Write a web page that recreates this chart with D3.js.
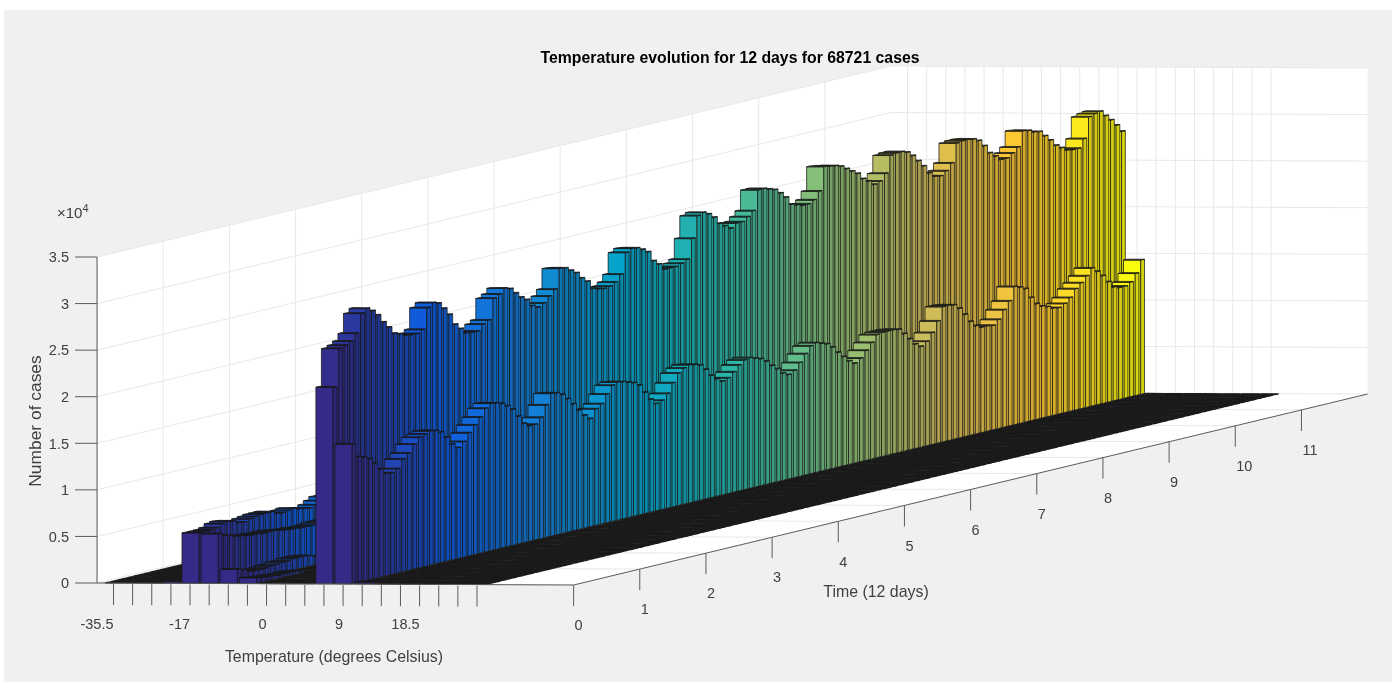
<!DOCTYPE html>
<html>
<head>
<meta charset="utf-8">
<script src="https://cdnjs.cloudflare.com/ajax/libs/d3/7.8.5/d3.min.js"></script>
<style>
  html, body { margin: 0; padding: 0; background: #fff; }
  svg { display: block; filter: blur(0.35px); }
  text { font-family: "Liberation Sans", Arial, sans-serif; fill: #404040; }
</style>
</head>
<body>
<div id="chart"></div>
<script>
// cases (x 10^4) per 2 hour bin. Columns that are left out stay at 0.
// Short columns: the rest of them sits behind the tall ridge and can't be read.
var col3 = [0.02, 0.01];
var col4 = [0.54, 0.54, 0.54, 0.55, 0.58, 0.59, 0.58, 0.55, 0.54, 0.56, 0.57, 0.58, 0.58, 0.58, 0.55, 0.54, 0.55, 0.56, 0.54, 0.53, 0.52, 0.54, 0.57, 0.60, 0.60];
var col5 = [0.53, 0.50, 0.48, 0.46, 0.45, 0.44, 0.43, 0.43, 0.42, 0.42, 0.42, 0.41, 0.40, 0.39, 0.39, 0.38, 0.38, 0.38, 0.39, 0.39, 0.39, 0.40, 0.40];
var col6 = [0.15, 0.13, 0.10, 0.09, 0.09, 0.09, 0.10, 0.10, 0.11, 0.11, 0.12, 0.12, 0.12, 0.11, 0.09, 0.07, 0.06, 0.05, 0.05, 0.05, 0.06];
var col7 = [0.06, 0.05, 0.04, 0.04, 0.03, 0.03, 0.03, 0.03, 0.02];
var col11 = [
  2.11, 2.51, 2.53, 2.56, 2.63, 2.83, 2.87, 2.83, 2.77, 2.68, 2.61, 2.53,
  2.51, 2.48, 2.47, 2.47, 2.50, 2.72, 2.76, 2.74, 2.67, 2.59, 2.47, 2.41,
  2.35, 2.34, 2.34, 2.40, 2.43, 2.65, 2.68, 2.73, 2.71, 2.65, 2.59, 2.55,
  2.47, 2.44, 2.47, 2.53, 2.59, 2.80, 2.79, 2.75, 2.71, 2.64, 2.59, 2.50,
  2.48, 2.47, 2.48, 2.51, 2.58, 2.80, 2.83, 2.82, 2.79, 2.75, 2.64, 2.59,
  2.52, 2.52, 2.52, 2.54, 2.57, 2.78, 3.01, 3.03, 3.00, 2.95, 2.87, 2.83,
  2.79, 2.83, 2.83, 2.87, 2.92, 3.13, 3.13, 3.11, 3.09, 3.04, 2.98, 2.89,
  2.87, 2.85, 2.85, 2.88, 2.96, 3.21, 3.20, 3.19, 3.17, 3.13, 3.09, 3.05,
  2.98, 2.94, 2.89, 2.91, 2.98, 3.16, 3.17, 3.17, 3.15, 3.10, 3.03, 2.96,
  2.87, 2.82, 2.81, 2.85, 2.92, 3.12, 3.13, 3.13, 3.12, 3.09, 3.02, 2.93,
  2.88, 2.83, 2.83, 2.87, 2.92, 3.08, 3.07, 3.04, 3.03, 2.97, 2.91, 2.84,
  2.80, 2.76, 2.75, 2.75, 2.84, 3.06, 3.08, 3.09, 3.03, 2.97, 2.90, 2.82
];
var col12 = [
  1.50, 1.35, 1.33, 1.30, 1.24, 1.16, 1.10, 1.09, 1.12, 1.21, 1.26, 1.34,
  1.40, 1.42, 1.44, 1.43, 1.40, 1.33, 1.24, 1.19, 1.24, 1.32, 1.39, 1.46,
  1.54, 1.58, 1.57, 1.55, 1.51, 1.46, 1.37, 1.28, 1.24, 1.24, 1.30, 1.42,
  1.53, 1.52, 1.49, 1.43, 1.36, 1.28, 1.21, 1.16, 1.25, 1.29, 1.38, 1.46,
  1.48, 1.47, 1.45, 1.43, 1.39, 1.30, 1.21, 1.15, 1.17, 1.23, 1.33, 1.42,
  1.46, 1.48, 1.47, 1.45, 1.39, 1.31, 1.26, 1.22, 1.24, 1.29, 1.35, 1.39,
  1.40, 1.38, 1.36, 1.32, 1.26, 1.21, 1.15, 1.12, 1.15, 1.22, 1.30, 1.37,
  1.39, 1.37, 1.35, 1.30, 1.23, 1.17, 1.11, 1.07, 1.11, 1.18, 1.25, 1.32,
  1.33, 1.33, 1.33, 1.32, 1.26, 1.19, 1.12, 1.08, 1.12, 1.20, 1.31, 1.45,
  1.45, 1.44, 1.39, 1.31, 1.22, 1.16, 1.13, 1.13, 1.12, 1.17, 1.26, 1.34,
  1.48, 1.46, 1.43, 1.32, 1.24, 1.20, 1.18, 1.15, 1.14, 1.17, 1.22, 1.30,
  1.35, 1.41, 1.48, 1.43, 1.37, 1.29, 1.22, 1.20, 1.20, 1.23, 1.31, 1.44
];
var col13 = [0.02, 0.01];

var tempLabels = ["-35.5", "-17", "0", "9", "18.5"];
var tempLabelCols = [0, 4, 8, 12, 16];
var timeLabels = ["0", "1", "2", "3", "4", "5", "6", "7", "8", "9", "10", "11"];
var zTicks = [0, 0.5, 1, 1.5, 2, 2.5, 3, 3.5];
var parula = ["#352a87", "#0f5cdd", "#1481d6", "#06a4ca", "#2eb7a4", "#87bf77", "#d1bb59", "#fec832", "#f9fb0e"];

var columns = {3: col3, 4: col4, 5: col5, 6: col6, 7: col7, 11: col11, 12: col12, 13: col13};
var nCols = 20, nRows = 144;

var width = 1397, height = 684;
var svg = d3.select("#chart").append("svg").attr("width", width).attr("height", height);

// figure background
svg.append("rect").attr("x", 4).attr("y", 10).attr("width", 1388).attr("height", 672).attr("fill", "#f0f0f0");

// the view is a plain oblique one: temperature goes right, time goes up and right, cases go up
var colX = d3.scaleLinear().domain([0, 19]).range([113.5, 477]);
var colDrop = d3.scaleLinear().domain([-0.86, 24.05]).range([583, 585]);
var timeX = d3.scaleLinear().domain([0, 12]).range([0, 794]);
var timeLift = d3.scaleLinear().domain([0, 12]).range([0, 191]);
var zLift = d3.scaleLinear().domain([0, 3.5]).range([0, 326]);
var colMin = -0.86, colMax = 24.05;

function project(c, t, z) {
  return [colX(c) + timeX(t), colDrop(c) - timeLift(t) - zLift(z)];
}
function poly(points) {
  return "M" + points.map(function (p) { return p[0].toFixed(2) + "," + p[1].toFixed(2); }).join("L") + "Z";
}

var rowColor = d3.scaleLinear()
  .domain(parula.map(function (d, i) { return i * (nRows - 1) / (parula.length - 1); }))
  .range(parula)
  .interpolate(d3.interpolateRgb);

function shade(color, k) {
  var c = d3.rgb(color);
  return d3.rgb(c.r * k, c.g * k, c.b * k).formatHex();
}

// walls and floor
var walls = svg.append("g");
var wallShapes = [
  [project(colMin, 0, 0), project(colMin, 12, 0), project(colMin, 12, 3.5), project(colMin, 0, 3.5)],
  [project(colMin, 12, 0), project(colMax, 12, 0), project(colMax, 12, 3.5), project(colMin, 12, 3.5)],
  [project(colMin, 0, 0), project(colMax, 0, 0), project(colMax, 12, 0), project(colMin, 12, 0)]
];
walls.selectAll("path").data(wallShapes).enter().append("path")
  .attr("d", poly).attr("fill", "#fff");

// grid
var gridLines = [];
d3.range(0, 20).forEach(function (c) {
  gridLines.push([project(c, 0, 0), project(c, 12, 0), project(c, 12, 3.5)]);
});
d3.range(0, 12).forEach(function (t) {
  gridLines.push([project(colMax, t, 0), project(colMin, t, 0), project(colMin, t, 3.5)]);
});
zTicks.forEach(function (z) {
  gridLines.push([project(colMin, 0, z), project(colMin, 12, z), project(colMax, 12, z)]);
});
svg.append("g").selectAll("path").data(gridLines).enter().append("path")
  .attr("d", d3.line())
  .attr("fill", "none")
  .attr("stroke", "#e8e8e8")
  .attr("stroke-width", 1);

// bars, far ones first so the near ones cover them
var barHalf = 0.45, rowFrom = 0.1, rowTo = 0.78;
var bars = [];
d3.range(nCols).forEach(function (c) {
  for (var r = nRows - 1; r >= 0; r--) {
    var values = columns[c] || [];
    bars.push({ col: c, row: r, value: values[r] || 0 });
  }
});

var barG = svg.append("g").attr("stroke", "#1a1a1a").attr("stroke-width", 0.75).attr("stroke-linejoin", "round");
var barCells = barG.selectAll("g").data(bars).enter().append("g");

function corners(d) {
  var l = d.col - barHalf, w = d.col + barHalf;
  var t0 = (d.row + rowFrom) / 12, t1 = (d.row + rowTo) / 12;
  return { l: l, w: w, t0: t0, t1: t1, z: d.value };
}

barCells.filter(function (d) { return d.value > 0; }).append("path")
  .attr("d", function (d) {
    var k = corners(d);
    return poly([project(k.l, k.t0, 0), project(k.w, k.t0, 0), project(k.w, k.t0, k.z), project(k.l, k.t0, k.z)]);
  })
  .attr("fill", function (d) { return rowColor(d.row); });

barCells.filter(function (d) { return d.value > 0; }).append("path")
  .attr("d", function (d) {
    var k = corners(d);
    return poly([project(k.w, k.t0, 0), project(k.w, k.t1, 0), project(k.w, k.t1, k.z), project(k.w, k.t0, k.z)]);
  })
  .attr("fill", function (d) { return shade(rowColor(d.row), 0.85); });

// the tops are seen edge on, and the empty cells merge into a near black floor
barCells.append("path")
  .attr("d", function (d) {
    var k = corners(d);
    return poly([project(k.l, k.t0, k.z), project(k.w, k.t0, k.z), project(k.w, k.t1, k.z), project(k.l, k.t1, k.z)]);
  })
  .attr("fill", function (d) { return d.value > 0 ? shade(rowColor(d.row), 0.4) : "#222"; })
  .attr("stroke-width", function (d) { return d.value > 0 ? 0.75 : 1.1; });

// axes
var axisColor = "#5a5a5a";
var axisG = svg.append("g").attr("stroke", axisColor).attr("stroke-width", 1).attr("fill", "none");

axisG.append("path").attr("d", d3.line()([project(colMin, 0, 0), project(colMin, 0, 3.5)]));
axisG.append("path").attr("d", d3.line()([project(colMin, 0, 0), project(colMax, 0, 0)]));
axisG.append("path").attr("d", d3.line()([project(colMax, 0, 0), project(colMax, 12, 0)]));

zTicks.forEach(function (z) {
  var p = project(colMin, 0, z);
  axisG.append("line").attr("x1", p[0] - 22).attr("x2", p[0]).attr("y1", p[1]).attr("y2", p[1]);
  svg.append("text").attr("x", p[0] - 28).attr("y", p[1]).attr("dy", "0.36em")
    .attr("text-anchor", "end").style("font-size", "14.5px").text(z);
});

d3.range(nCols).forEach(function (c) {
  var p = project(c, 0, 0);
  axisG.append("line").attr("x1", p[0]).attr("x2", p[0]).attr("y1", p[1] + 1).attr("y2", p[1] + 22);
});
tempLabels.forEach(function (label, i) {
  var p = project(tempLabelCols[i], 0, 0);
  svg.append("text").attr("x", p[0]).attr("y", 624).attr("dy", "0.36em")
    .attr("text-anchor", "end").style("font-size", "14.5px").text(label);
});

timeLabels.forEach(function (label, i) {
  var p = project(colMax, i, 0);
  axisG.append("line").attr("x1", p[0]).attr("x2", p[0]).attr("y1", p[1]).attr("y2", p[1] + 21);
  svg.append("text").attr("x", p[0] + 1).attr("y", p[1] + 40).attr("dy", "0.36em")
    .attr("text-anchor", "start").style("font-size", "14.5px").text(label);
});

// titles
svg.append("text").attr("x", 730).attr("y", 62.5).attr("text-anchor", "middle")
  .style("font-size", "15.8px").style("font-weight", "bold").style("fill", "#000")
  .text("Temperature evolution for 12 days for 68721 cases");
svg.append("text").attr("x", 334).attr("y", 662).attr("text-anchor", "middle")
  .style("font-size", "15.9px").text("Temperature (degrees Celsius)");
svg.append("text").attr("x", 876).attr("y", 596.5).attr("text-anchor", "middle")
  .style("font-size", "15.9px").text("Time (12 days)");
svg.append("text").attr("transform", "translate(41,421) rotate(-90)").attr("text-anchor", "middle")
  .style("font-size", "17.4px").text("Number of cases");

var mult = svg.append("text").attr("x", 57).attr("y", 218).style("font-size", "15px");
mult.append("tspan").text("\u00d710");
mult.append("tspan").attr("dy", -6).style("font-size", "11px").text("4");
</script>
</body>
</html>
